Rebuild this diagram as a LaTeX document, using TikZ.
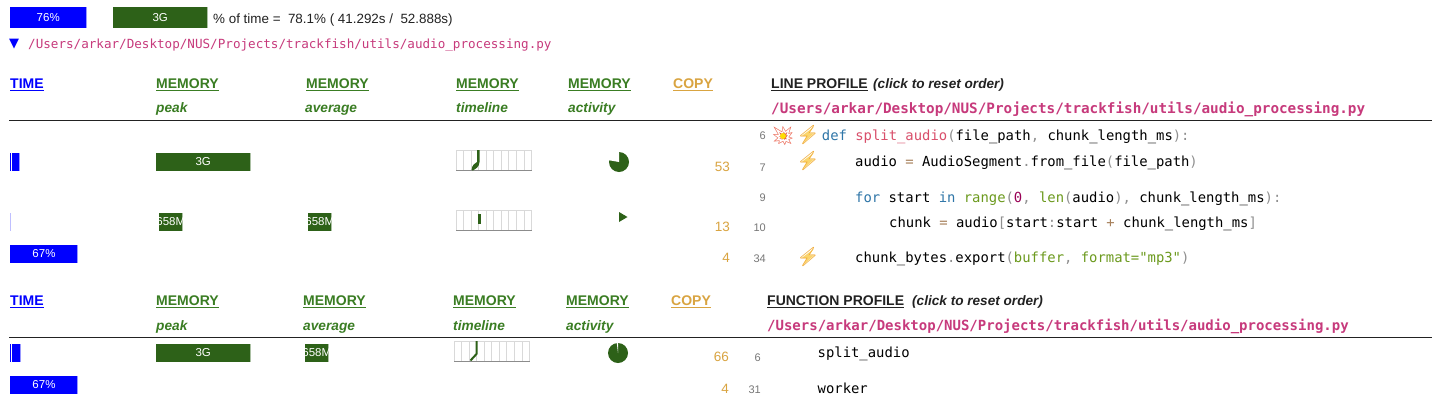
\documentclass[tikz,border=0pt]{standalone}
\usepackage{fontspec}
\setmainfont{Liberation Sans}
\newfontfamily\cod{DejaVu Sans Mono}
\newfontfamily\emo{Noto Emoji}
\newfontfamily\dejav{DejaVu Sans}
\definecolor{bluebar}{HTML}{0000FF}
\definecolor{greenbar}{HTML}{2D6118}
\definecolor{greenhead}{HTML}{3A7D23}
\definecolor{gold}{HTML}{D9A441}
\definecolor{magentapath}{HTML}{C73A7C}
\definecolor{kw}{HTML}{2F76A8}
\definecolor{fn}{HTML}{D94F6B}
\definecolor{pu}{HTML}{8F8F8F}
\definecolor{op}{HTML}{A67F59}
\definecolor{num}{HTML}{990055}
\definecolor{st}{HTML}{6C9A1E}
\definecolor{bolt}{HTML}{F0A830}
\definecolor{boltfill}{HTML}{FBD56B}
\definecolor{blast}{HTML}{E8503A}
\definecolor{lineno}{HTML}{777777}
\definecolor{dark}{HTML}{222222}
\newcommand{\fs}[1]{\fontsize{#1}{#1}\selectfont}
\tikzset{
  txt/.style={inner sep=0pt,anchor=base west,text=dark},
  rtxt/.style={inner sep=0pt,anchor=base east},
  headtxt/.style={txt,font=\bfseries\fs{14}},
  subtxt/.style={txt,font=\bfseries\itshape\fs{13.7},text=greenhead},
  clicktxt/.style={txt,font=\bfseries\itshape\fs{13.6}},
  codetxt/.style={txt,font=\cod\fs{13.88},text=black},
  pathtxt/.style={txt,font=\cod\bfseries\fs{14.3},text=magentapath},
  copytxt/.style={rtxt,font=\fs{13.5},text=gold},
  linetxt/.style={rtxt,font=\fs{11},text=lineno},
  bartxt/.style={inner sep=0pt,text=white,font=\fs{11.5}},
  rulepen/.style={draw=dark,line width=1pt},
  boltmark/.style={inner sep=0pt,font=\emo\fs{19},text=bolt},
  gridpen/.style={draw=black!15,line width=0.8pt},
  basepen/.style={draw=black!45,line width=1pt}
}
% name, x, baseline, colour, text
\newcommand{\hdr}[5]{%
  \node[headtxt,text=#4] (#1) at (#2,#3) {#5};
  \draw[#4,line width=1pt] ([yshift=-2pt]#1.base west) -- ([yshift=-2pt]#1.base east);}
% name, x1, y1, x2, y2, colour, text
\newcommand{\barbox}[7]{%
  \fill[#6] (#2,#3) rectangle (#4,#5);
  \fill[#6!40] (#4-1,#3) rectangle (#4,#5);
  \begin{scope}
    \clip (#2,#3) rectangle (#4,#5);
    \node[bartxt] (#1) at ({(#2+#4)/2},{(#3+#5)/2}) {#7};
  \end{scope}}
% x-left, y-top
\newcommand{\spark}[2]{%
  \foreach \i in {0,...,10} {\draw[gridpen] ({#1+\i*7.55},#2) -- ({#1+\i*7.55},#2+20);}
  \draw[gridpen] (#1,#2) -- (#1+75.5,#2);
  \draw[basepen] (#1,#2+20.3) -- (#1+75.5,#2+20.3);}
% name, x, y
\newcommand{\boltat}[3]{%
  \fill[boltfill] (#2+5.7,#3-8) -- (#2-6,#3+0.7) -- (#2-1,#3+1) -- (#2-5,#3+8) -- (#2+6,#3-1.7) -- (#2+1,#3-1.7) -- cycle;
  \node[boltmark] (#1) at (#2,#3) {⚡};}
\begin{document}
\begin{tikzpicture}[x=1pt,y=-1pt]
\useasboundingbox (0,0) rectangle (1432,416);
\fill[white] (0,0) rectangle (1432,416);

% top summary
\barbox{sa}{9.5}{7}{87}{27.5}{bluebar}{76\%}
\barbox{sb}{113}{7}{207.5}{27.5}{greenbar}{3G}
\node[txt,font=\fs{13.4}] (st) at (213,23) {\%\ of time =\ \ 78.1\%\ (\ 41.292s /\ \ 52.888s)};
\node[inner sep=0pt,text=bluebar,font=\dejav\fs{13}] (tri) at (14,44) {▼};
\node[txt,font=\cod\fs{12.6},text=magentapath] (fp) at (28,48) {/Users/arkar/Desktop/NUS/Projects/trackfish/utils/audio\_processing.py};

% line profile headers
\hdr{h1}{10}{88}{bluebar}{TIME}
\hdr{h2}{156}{88}{greenhead}{MEMORY}
\hdr{h3}{306}{88}{greenhead}{MEMORY}
\hdr{h4}{456}{88}{greenhead}{MEMORY}
\hdr{h5}{568}{88}{greenhead}{MEMORY}
\hdr{h6}{673}{88}{gold}{COPY}
\hdr{h7}{771}{88}{dark}{LINE PROFILE}
\node[clicktxt] (h8) at (873,88) {(click to reset order)};
\node[subtxt] (s2) at (156,112) {peak};
\node[subtxt] (s3) at (305,112) {average};
\node[subtxt] (s4) at (456,112) {timeline};
\node[subtxt] (s5) at (568,112) {activity};
\node[pathtxt] (lp) at (771,113) {/Users/arkar/Desktop/NUS/Projects/trackfish/utils/audio\_processing.py};
\coordinate (r1a) at (9,120.5);
\coordinate (r1b) at (1432,120.5);
\draw[rulepen] (r1a) -- (r1b);

% line profile rows
\barbox{b1}{10}{153}{20}{171}{bluebar}{}
\fill[white] (11.2,153) rectangle (11.9,171);
\barbox{b2}{156}{153}{250.5}{171}{greenbar}{3G}
\spark{456}{150}
\fill[greenbar] (471.5,170) .. controls (472,165) and (475,163) .. (477,162) -- (477,150) -- (479.5,150) -- (479.5,162) .. controls (479,167) and (476,169) .. (473,170.5) -- cycle;
\fill[greenbar] (619,162) circle[radius=10];
\fill[white] (619,162) -- (619,150) -- (607,150) -- (607,159.9) -- cycle;
\node[copytxt] (c1) at (730,171) {53};
\node[linetxt] (l1) at (766,139) {6};
\node[linetxt] (l2) at (766,171) {7};
\node[linetxt] (l3) at (766,201) {9};
\node[linetxt] (l4) at (766,231) {10};
\node[linetxt] (l5) at (766,262) {34};
\node[inner sep=0pt,font=\emo\fs{19},text=blast] (ex) at (783,136) {💥};
\fill[yellow!80!orange] (783,136) circle[radius=3];
\boltat{e1}{808}{135}
\boltat{e2}{808}{161}
\boltat{e3}{808}{257}

\node[codetxt] (k1) at (821.7,140) {\textcolor{kw}{def} \textcolor{fn}{split\_audio}\textcolor{pu}{(}file\_path\textcolor{pu}{,} chunk\_length\_ms\textcolor{pu}{):}};
\node[codetxt] (k2) at (855,166) {audio \textcolor{op}{=} AudioSegment\textcolor{pu}{.}from\_file\textcolor{pu}{(}file\_path\textcolor{pu}{)}};
\node[codetxt] (k3) at (855,202) {\textcolor{kw}{for} start \textcolor{kw}{in} \textcolor{st}{range}\textcolor{pu}{(}\textcolor{num}{0}\textcolor{pu}{,} \textcolor{st}{len}\textcolor{pu}{(}audio\textcolor{pu}{),} chunk\_length\_ms\textcolor{pu}{):}};
\node[codetxt] (k4) at (889,227) {chunk \textcolor{op}{=} audio\textcolor{pu}{[}start\textcolor{pu}{:}start \textcolor{op}{+} chunk\_length\_ms\textcolor{pu}{]}};
\node[codetxt] (k5) at (855,262) {chunk\_bytes\textcolor{pu}{.}export\textcolor{pu}{(}\textcolor{st}{buffer}\textcolor{pu}{,} \textcolor{st}{format="mp3"}\textcolor{pu}{)}};

\fill[bluebar!25] (10,213) rectangle (11,231);
\barbox{b3}{159}{213}{182.5}{231}{greenbar}{658M}
\barbox{b4}{308}{213}{331.5}{231}{greenbar}{658M}
\spark{456}{210}
\fill[greenbar] (478,213.5) rectangle (480.5,224);
\fill[greenbar] (619,212) -- (627.5,217) -- (619,222) -- cycle;
\node[copytxt] (c2) at (730,231) {13};
\barbox{b5}{10}{245}{78}{263}{bluebar}{67\%}
\node[copytxt] (c3) at (730,262) {4};

% function profile headers
\hdr{f1}{10}{305}{bluebar}{TIME}
\hdr{f2}{156}{305}{greenhead}{MEMORY}
\hdr{f3}{303}{305}{greenhead}{MEMORY}
\hdr{f4}{453}{305}{greenhead}{MEMORY}
\hdr{f5}{566}{305}{greenhead}{MEMORY}
\hdr{f6}{671}{305}{gold}{COPY}
\hdr{f7}{767}{305}{dark}{FUNCTION PROFILE}
\node[clicktxt] (f8) at (912,305) {(click to reset order)};
\node[subtxt] (t2) at (156,330) {peak};
\node[subtxt] (t3) at (303,330) {average};
\node[subtxt] (t4) at (453,330) {timeline};
\node[subtxt] (t5) at (566,330) {activity};
\node[pathtxt,font=\cod\bfseries\fs{14}] (fpp) at (767,330) {/Users/arkar/Desktop/NUS/Projects/trackfish/utils/audio\_processing.py};
\coordinate (r2a) at (9,337);
\coordinate (r2b) at (1432,337);
\draw[rulepen] (r2a) -- (r2b);

% function profile rows
\barbox{b6}{10}{344}{20.5}{362}{bluebar}{}
\fill[white] (11.2,344) rectangle (11.9,362);
\barbox{b7}{156}{344}{250.5}{362}{greenbar}{3G}
\barbox{b8}{305}{344}{328.5}{362}{greenbar}{658M}
\spark{454}{341}
\draw[greenbar,line width=2pt,line join=round] (470.5,360.5) -- (476.5,354) -- (476.5,341);
\fill[greenbar] (618,353) circle[radius=10];
\fill[white] (616.8,343) -- (618,353) -- (618.2,343) -- cycle;
\node[copytxt] (c4) at (729,361) {66};
\node[linetxt] (l6) at (761,361) {6};
\node[codetxt] (k6) at (817.5,357) {split\_audio};
\barbox{b9}{10}{376}{78}{394}{bluebar}{67\%}
\node[copytxt] (c5) at (729,393) {4};
\node[linetxt] (l7) at (761,393) {31};
\node[codetxt] (k7) at (817.5,393) {worker};
\end{tikzpicture}
\end{document}
